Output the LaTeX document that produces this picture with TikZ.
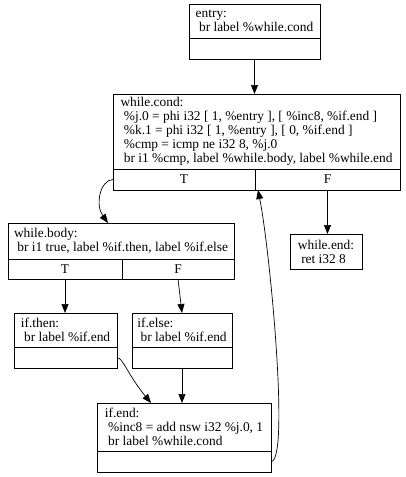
\documentclass[tikz,border=0pt]{standalone}
\usepackage{fontspec}
\setmainfont{Liberation Serif}
\usetikzlibrary{arrows.meta}
\begin{document}
\begin{tikzpicture}[x=1pt, y=-1pt,
  every node/.style={font=\fontsize{13.4}{14}\selectfont},
  cell/.style={draw, line width=0.7pt, inner sep=0pt, outer sep=0pt, align=left, anchor=north west},
  edge/.style={-{Triangle[length=9pt,width=7pt]}, line width=0.7pt}]
  \useasboundingbox (0,0) rectangle (405,477);
  % blocks
  \node[cell, minimum width=131, minimum height=34] (entry) at (189,4) {entry:\\\ br label \%while.cond};
  \node[cell, minimum width=131, minimum height=21] (entryX) at (entry.south west) {};
  \node[cell, minimum width=287, minimum height=75] (cond) at (113,94) {while.cond:\\\ \%j.0 = phi i32 [ 1, \%entry ], [ \%inc8, \%if.end ]\\\ \%k.1 = phi i32 [ 1, \%entry ], [ 0, \%if.end ]\\\ \%cmp = icmp ne i32 8, \%j.0\\\ br i1 \%cmp, label \%while.body, label \%while.end};
  \node[cell, minimum width=142, minimum height=21] (condT) at (cond.south west) {T};
  \node[cell, minimum width=145, minimum height=21, anchor=north east] (condF) at (cond.south east) {F};
  \node[cell, minimum width=72, minimum height=35] (wend) at (290,234) {while.end:\\\ ret i32 8};
  \node[cell, minimum width=226, minimum height=36] (body) at (8,223) {while.body:\\\ br i1 true, label \%if.then, label \%if.else};
  \node[cell, minimum width=114, minimum height=20] (bodyT) at (body.south west) {T};
  \node[cell, minimum width=112, minimum height=20, anchor=north east] (bodyF) at (body.south east) {F};
  \node[cell, minimum width=103, minimum height=34] (then) at (14,313) {if.then:\\\ br label \%if.end};
  \node[cell, minimum width=103, minimum height=21] (thenX) at (then.south west) {};
  \node[cell, minimum width=100, minimum height=34] (else) at (132,313) {if.else:\\\ br label \%if.end};
  \node[cell, minimum width=100, minimum height=21] (elseX) at (else.south west) {};
  \node[cell, minimum width=174, minimum height=48] (ifend) at (97,403) {if.end:\\\ \%inc8 = add nsw i32 \%j.0, 1\\\ br label \%while.cond};
  \node[cell, minimum width=174, minimum height=21] (ifendX) at (ifend.south west) {};
  % edges
  \draw[edge] (entryX.south) -- (entryX.south |- cond.north);
  \draw[edge] (condT.west) .. controls (100,180) and (95,205) .. ([xshift=-13pt]body.north);
  \draw[edge] (condF.south) -- (condF.south |- wend.north);
  \draw[edge] (bodyT.south) -- (bodyT.south |- then.north);
  \draw[edge] (bodyF.south) -- (else.north);
  \draw[edge] (thenX.east) .. controls (123,358) and (128,375) .. ([xshift=-33pt]ifend.north);
  \draw[edge] (elseX.south) -- (elseX.south |- ifend.north);
  \draw[edge] (ifendX.east) .. controls (290,462) and (270,250) .. ([xshift=3pt]condF.south west);
\end{tikzpicture}
\end{document}
